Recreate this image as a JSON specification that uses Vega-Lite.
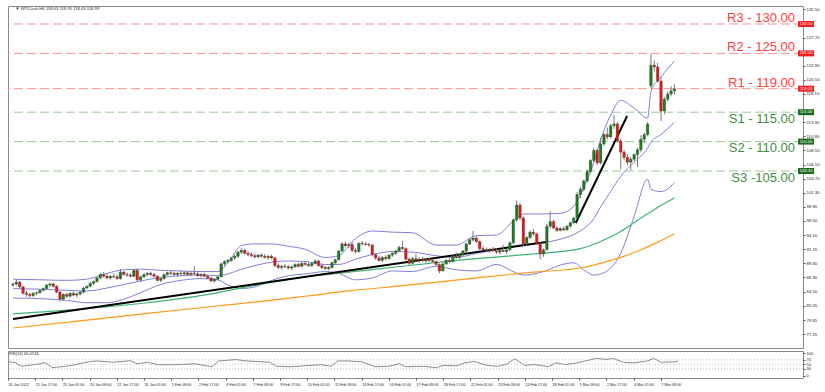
{
"$schema": "https://vega.github.io/schema/vega-lite/v6.json",
"background": "white",
"padding": {"left": 5, "top": 5, "right": 0, "bottom": 0},
"spacing": 1,
"config": {
  "view": {"stroke": "#8a8a8a", "strokeWidth": 1},
  "font": "Liberation Sans"
},
"resolve": {"scale": {"y": "independent"}},
"datasets": {
"candles": [
{"i":0,"o":85.6,"h":86.0,"l":85.3,"c":85.8},{"i":1,"o":85.8,"h":86.6,"l":85.5,"c":86.1},{"i":2,"o":86.1,"h":86.3,"l":85.0,"c":85.3},{"i":3,"o":85.3,"h":85.5,"l":84.0,"c":84.2},{"i":4,"o":84.2,"h":84.6,"l":83.6,"c":84.0},{"i":5,"o":84.0,"h":84.3,"l":83.5,"c":83.8},{"i":6,"o":83.8,"h":84.4,"l":83.6,"c":84.2},{"i":7,"o":84.2,"h":84.5,"l":83.9,"c":84.3},{"i":8,"o":84.3,"h":84.9,"l":84.1,"c":84.7},{"i":9,"o":84.7,"h":85.2,"l":84.5,"c":85.0},
{"i":10,"o":85.0,"h":85.8,"l":84.8,"c":85.6},{"i":11,"o":85.6,"h":86.0,"l":85.3,"c":85.8},{"i":12,"o":85.8,"h":86.0,"l":85.2,"c":85.4},{"i":13,"o":85.4,"h":85.6,"l":84.2,"c":84.4},{"i":14,"o":84.4,"h":84.6,"l":82.8,"c":83.2},{"i":15,"o":83.2,"h":84.2,"l":83.0,"c":84.0},{"i":16,"o":84.0,"h":84.3,"l":83.4,"c":83.7},{"i":17,"o":83.7,"h":84.4,"l":83.5,"c":84.2},{"i":18,"o":84.2,"h":84.5,"l":83.7,"c":83.9},{"i":19,"o":83.9,"h":84.3,"l":83.5,"c":84.1},
{"i":20,"o":84.1,"h":84.6,"l":83.8,"c":84.4},{"i":21,"o":84.4,"h":85.3,"l":84.2,"c":85.1},{"i":22,"o":85.1,"h":85.6,"l":84.9,"c":85.4},{"i":23,"o":85.4,"h":86.1,"l":85.2,"c":85.9},{"i":24,"o":85.9,"h":86.4,"l":85.6,"c":86.2},{"i":25,"o":86.2,"h":87.0,"l":86.0,"c":86.8},{"i":26,"o":86.8,"h":87.6,"l":86.6,"c":87.4},{"i":27,"o":87.4,"h":87.8,"l":86.9,"c":87.1},{"i":28,"o":87.1,"h":87.5,"l":86.6,"c":86.8},{"i":29,"o":86.8,"h":87.3,"l":86.5,"c":87.1},
{"i":30,"o":87.1,"h":87.6,"l":86.8,"c":87.0},{"i":31,"o":87.0,"h":87.4,"l":86.5,"c":86.7},{"i":32,"o":86.7,"h":88.3,"l":86.5,"c":87.8},{"i":33,"o":87.8,"h":88.0,"l":87.2,"c":87.4},{"i":34,"o":87.4,"h":87.7,"l":87.0,"c":87.3},{"i":35,"o":87.3,"h":87.6,"l":86.9,"c":87.1},{"i":36,"o":87.1,"h":88.3,"l":86.9,"c":88.1},{"i":37,"o":88.1,"h":88.4,"l":86.2,"c":86.5},{"i":38,"o":86.5,"h":87.2,"l":86.1,"c":87.0},{"i":39,"o":87.0,"h":87.6,"l":86.8,"c":87.4},
{"i":40,"o":87.4,"h":87.8,"l":87.1,"c":87.6},{"i":41,"o":87.6,"h":87.9,"l":87.2,"c":87.4},{"i":42,"o":87.4,"h":87.7,"l":86.9,"c":87.1},{"i":43,"o":87.1,"h":87.3,"l":86.2,"c":86.4},{"i":44,"o":86.4,"h":86.9,"l":86.1,"c":86.7},{"i":45,"o":86.7,"h":87.6,"l":86.5,"c":87.4},{"i":46,"o":87.4,"h":87.9,"l":87.2,"c":87.7},{"i":47,"o":87.7,"h":88.0,"l":87.3,"c":87.6},{"i":48,"o":87.6,"h":87.9,"l":87.2,"c":87.4},{"i":49,"o":87.4,"h":87.8,"l":87.0,"c":87.6},
{"i":50,"o":87.6,"h":88.0,"l":87.3,"c":87.5},{"i":51,"o":87.5,"h":87.9,"l":87.2,"c":87.7},{"i":52,"o":87.7,"h":88.0,"l":87.3,"c":87.4},{"i":53,"o":87.4,"h":87.8,"l":87.1,"c":87.6},{"i":54,"o":87.6,"h":88.8,"l":87.4,"c":87.5},{"i":55,"o":87.5,"h":87.9,"l":87.0,"c":87.2},{"i":56,"o":87.2,"h":87.6,"l":86.9,"c":87.4},{"i":57,"o":87.4,"h":87.7,"l":87.0,"c":87.1},{"i":58,"o":87.1,"h":87.4,"l":86.6,"c":86.8},{"i":59,"o":86.8,"h":87.0,"l":86.1,"c":86.3},
{"i":60,"o":86.3,"h":86.8,"l":86.0,"c":86.6},{"i":61,"o":86.6,"h":87.2,"l":86.4,"c":87.0},{"i":62,"o":87.0,"h":89.4,"l":86.9,"c":89.2},{"i":63,"o":89.2,"h":89.8,"l":88.9,"c":89.6},{"i":64,"o":89.6,"h":90.0,"l":89.3,"c":89.8},{"i":65,"o":89.8,"h":90.4,"l":89.5,"c":90.2},{"i":66,"o":90.2,"h":90.8,"l":89.9,"c":90.5},{"i":67,"o":90.5,"h":91.4,"l":90.2,"c":91.2},{"i":68,"o":91.2,"h":91.9,"l":90.9,"c":91.5},{"i":69,"o":91.5,"h":91.8,"l":90.8,"c":91.0},
{"i":70,"o":91.0,"h":91.4,"l":90.5,"c":90.8},{"i":71,"o":90.8,"h":91.2,"l":90.3,"c":90.6},{"i":72,"o":90.6,"h":91.0,"l":90.1,"c":90.4},{"i":73,"o":90.4,"h":90.9,"l":90.2,"c":90.7},{"i":74,"o":90.7,"h":91.0,"l":90.3,"c":90.5},{"i":75,"o":90.5,"h":90.9,"l":90.1,"c":90.3},{"i":76,"o":90.3,"h":90.7,"l":89.9,"c":90.5},{"i":77,"o":90.5,"h":90.8,"l":90.0,"c":90.2},{"i":78,"o":90.2,"h":90.4,"l":88.7,"c":88.9},{"i":79,"o":88.9,"h":89.3,"l":88.3,"c":88.6},
{"i":80,"o":88.6,"h":89.0,"l":88.2,"c":88.8},{"i":81,"o":88.8,"h":89.2,"l":88.5,"c":88.7},{"i":82,"o":88.7,"h":89.0,"l":88.3,"c":88.5},{"i":83,"o":88.5,"h":88.9,"l":88.1,"c":88.7},{"i":84,"o":88.7,"h":89.3,"l":88.5,"c":89.1},{"i":85,"o":89.1,"h":89.4,"l":88.6,"c":88.8},{"i":86,"o":88.8,"h":89.5,"l":88.6,"c":89.3},{"i":87,"o":89.3,"h":89.6,"l":88.9,"c":89.1},{"i":88,"o":89.1,"h":89.4,"l":88.7,"c":88.9},{"i":89,"o":88.9,"h":89.5,"l":88.7,"c":89.3},
{"i":90,"o":89.3,"h":90.0,"l":89.1,"c":89.7},{"i":91,"o":89.7,"h":89.9,"l":88.7,"c":88.9},{"i":92,"o":88.9,"h":89.2,"l":88.3,"c":88.6},{"i":93,"o":88.6,"h":88.9,"l":88.2,"c":88.4},{"i":94,"o":88.4,"h":88.8,"l":88.1,"c":88.6},{"i":95,"o":88.6,"h":89.6,"l":88.4,"c":89.4},{"i":96,"o":89.4,"h":90.1,"l":89.2,"c":89.9},{"i":97,"o":89.9,"h":91.6,"l":89.8,"c":91.4},{"i":98,"o":91.4,"h":92.9,"l":91.2,"c":92.6},{"i":99,"o":92.6,"h":93.0,"l":92.0,"c":92.3},
{"i":100,"o":92.3,"h":92.8,"l":91.9,"c":92.5},{"i":101,"o":92.5,"h":92.9,"l":91.2,"c":91.5},{"i":102,"o":91.5,"h":91.9,"l":91.0,"c":91.3},{"i":103,"o":91.3,"h":92.9,"l":91.1,"c":92.7},{"i":104,"o":92.7,"h":93.1,"l":92.3,"c":92.6},{"i":105,"o":92.6,"h":92.9,"l":92.3,"c":92.5},{"i":106,"o":92.5,"h":92.8,"l":92.1,"c":92.4},{"i":107,"o":92.4,"h":92.6,"l":90.5,"c":90.8},{"i":108,"o":90.8,"h":91.0,"l":89.9,"c":90.2},{"i":109,"o":90.2,"h":90.6,"l":89.6,"c":89.8},
{"i":110,"o":89.8,"h":90.5,"l":89.5,"c":90.3},{"i":111,"o":90.3,"h":90.7,"l":89.8,"c":90.1},{"i":112,"o":90.1,"h":90.9,"l":89.9,"c":90.7},{"i":113,"o":90.7,"h":91.2,"l":90.4,"c":91.0},{"i":114,"o":91.0,"h":91.6,"l":90.7,"c":91.4},{"i":115,"o":91.4,"h":92.3,"l":91.2,"c":92.0},{"i":116,"o":92.0,"h":93.1,"l":91.6,"c":91.8},{"i":117,"o":91.8,"h":92.0,"l":89.8,"c":90.0},{"i":118,"o":90.0,"h":90.3,"l":89.0,"c":89.3},{"i":119,"o":89.3,"h":90.4,"l":89.1,"c":90.1},
{"i":120,"o":90.1,"h":90.9,"l":89.6,"c":89.8},{"i":121,"o":89.8,"h":90.3,"l":89.4,"c":90.0},{"i":122,"o":90.0,"h":90.4,"l":89.6,"c":89.7},{"i":123,"o":89.7,"h":90.2,"l":89.4,"c":90.0},{"i":124,"o":90.0,"h":90.3,"l":89.5,"c":89.8},{"i":125,"o":89.8,"h":90.1,"l":89.4,"c":89.6},{"i":126,"o":89.6,"h":89.8,"l":88.9,"c":89.1},{"i":127,"o":89.1,"h":89.3,"l":87.6,"c":88.0},{"i":128,"o":88.0,"h":89.4,"l":87.9,"c":89.2},{"i":129,"o":89.2,"h":90.0,"l":89.0,"c":89.8},
{"i":130,"o":89.8,"h":90.2,"l":89.3,"c":89.6},{"i":131,"o":89.6,"h":90.8,"l":89.4,"c":90.5},{"i":132,"o":90.5,"h":91.2,"l":90.0,"c":90.3},{"i":133,"o":90.3,"h":90.9,"l":90.0,"c":90.7},{"i":134,"o":90.7,"h":91.6,"l":90.5,"c":91.4},{"i":135,"o":91.4,"h":92.8,"l":91.2,"c":92.6},{"i":136,"o":92.6,"h":93.6,"l":92.4,"c":93.3},{"i":137,"o":93.3,"h":94.8,"l":93.0,"c":93.6},{"i":138,"o":93.6,"h":93.9,"l":92.8,"c":93.0},{"i":139,"o":93.0,"h":93.2,"l":91.6,"c":91.8},
{"i":140,"o":91.8,"h":92.2,"l":91.4,"c":91.6},{"i":141,"o":91.6,"h":92.0,"l":91.2,"c":91.5},{"i":142,"o":91.5,"h":91.9,"l":91.1,"c":91.7},{"i":143,"o":91.7,"h":92.1,"l":91.3,"c":91.4},{"i":144,"o":91.4,"h":91.8,"l":90.9,"c":91.2},{"i":145,"o":91.2,"h":91.6,"l":90.8,"c":91.5},{"i":146,"o":91.5,"h":92.4,"l":91.2,"c":91.3},{"i":147,"o":91.3,"h":91.8,"l":90.9,"c":91.6},{"i":148,"o":91.6,"h":93.0,"l":91.4,"c":92.8},{"i":149,"o":92.8,"h":96.9,"l":92.6,"c":96.7},
{"i":150,"o":96.7,"h":100.0,"l":96.3,"c":99.2},{"i":151,"o":99.2,"h":99.6,"l":96.6,"c":97.0},{"i":152,"o":97.0,"h":97.3,"l":92.3,"c":92.6},{"i":153,"o":92.6,"h":93.9,"l":92.3,"c":93.7},{"i":154,"o":93.7,"h":94.9,"l":93.4,"c":94.6},{"i":155,"o":94.6,"h":95.1,"l":94.0,"c":94.3},{"i":156,"o":94.3,"h":94.5,"l":92.4,"c":92.7},{"i":157,"o":92.7,"h":92.9,"l":90.0,"c":90.9},{"i":158,"o":90.9,"h":91.8,"l":90.4,"c":91.6},{"i":159,"o":91.6,"h":96.0,"l":91.5,"c":95.6},
{"i":160,"o":95.6,"h":98.2,"l":95.2,"c":96.4},{"i":161,"o":96.4,"h":96.7,"l":95.1,"c":95.3},{"i":162,"o":95.3,"h":95.6,"l":94.6,"c":94.9},{"i":163,"o":94.9,"h":95.5,"l":94.7,"c":95.2},{"i":164,"o":95.2,"h":95.6,"l":94.8,"c":95.0},{"i":165,"o":95.0,"h":95.8,"l":94.8,"c":95.6},{"i":166,"o":95.6,"h":96.4,"l":95.4,"c":96.2},{"i":167,"o":96.2,"h":97.2,"l":96.0,"c":97.0},{"i":168,"o":97.0,"h":101.4,"l":96.9,"c":101.0},{"i":169,"o":101.0,"h":102.3,"l":100.4,"c":101.9},
{"i":170,"o":101.9,"h":103.6,"l":101.5,"c":103.3},{"i":171,"o":103.3,"h":105.3,"l":103.0,"c":104.9},{"i":172,"o":104.9,"h":107.0,"l":104.6,"c":106.8},{"i":173,"o":106.8,"h":108.9,"l":106.5,"c":108.5},{"i":174,"o":108.5,"h":108.7,"l":106.0,"c":106.4},{"i":175,"o":106.4,"h":110.6,"l":106.1,"c":109.6},{"i":176,"o":109.6,"h":111.5,"l":109.3,"c":111.2},{"i":177,"o":111.2,"h":112.4,"l":110.4,"c":110.8},{"i":178,"o":110.8,"h":113.0,"l":110.6,"c":112.7},{"i":179,"o":112.7,"h":114.5,"l":112.2,"c":113.0},
{"i":180,"o":113.0,"h":113.3,"l":109.8,"c":110.1},{"i":181,"o":110.1,"h":110.5,"l":105.3,"c":108.2},{"i":182,"o":108.2,"h":108.6,"l":106.8,"c":107.3},{"i":183,"o":107.3,"h":107.9,"l":106.0,"c":106.5},{"i":184,"o":106.5,"h":107.4,"l":105.2,"c":107.0},{"i":185,"o":107.0,"h":108.0,"l":106.6,"c":107.8},{"i":186,"o":107.8,"h":109.0,"l":105.7,"c":108.6},{"i":187,"o":108.6,"h":111.1,"l":108.2,"c":110.4},{"i":188,"o":110.4,"h":111.5,"l":109.8,"c":111.2},{"i":189,"o":111.2,"h":113.3,"l":110.9,"c":113.0},
{"i":190,"o":119.5,"h":124.9,"l":119.0,"c":123.0},{"i":191,"o":123.0,"h":123.8,"l":121.9,"c":122.7},{"i":192,"o":122.7,"h":123.4,"l":120.0,"c":120.3},{"i":193,"o":120.3,"h":121.0,"l":113.5,"c":115.2},{"i":194,"o":115.2,"h":117.6,"l":114.6,"c":117.2},{"i":195,"o":117.2,"h":118.5,"l":116.8,"c":118.1},{"i":196,"o":118.1,"h":119.4,"l":117.7,"c":118.63},{"i":197,"o":118.63,"h":119.76,"l":118.03,"c":118.99}
],
"bb": [
{"i":0,"u":86.6,"m":85.0,"l":83.4},{"i":8,"u":86.5,"m":84.9,"l":83.3},{"i":16,"u":86.4,"m":84.7,"l":83.0},{"i":22,"u":86.6,"m":84.6,"l":82.6},{"i":28,"u":87.6,"m":85.1,"l":82.6},{"i":33,"u":88.2,"m":85.7,"l":83.2},{"i":38,"u":88.3,"m":86.3,"l":84.3},{"i":44,"u":88.1,"m":86.9,"l":85.7},{"i":50,"u":88.0,"m":87.2,"l":86.4},{"i":56,"u":87.9,"m":87.3,"l":86.7},{"i":61,"u":87.9,"m":87.2,"l":86.5},{"i":64,"u":89.4,"m":87.5,"l":85.6},{"i":68,"u":92.3,"m":88.3,"l":85.0},{"i":72,"u":92.6,"m":88.9,"l":85.3},{"i":77,"u":92.6,"m":89.5,"l":86.4},{"i":82,"u":92.2,"m":89.7,"l":87.2},{"i":87,"u":91.7,"m":89.6,"l":87.5},{"i":93,"u":90.3,"m":89.1,"l":87.9},{"i":97,"u":90.6,"m":89.1,"l":87.6},{"i":102,"u":93.5,"m":90.0,"l":86.5},{"i":107,"u":94.8,"m":90.8,"l":86.8},{"i":113,"u":94.6,"m":91.3,"l":88.0},{"i":119,"u":94.5,"m":91.2,"l":87.9},{"i":126,"u":92.4,"m":90.6,"l":88.8},{"i":132,"u":92.4,"m":90.3,"l":88.2},{"i":138,"u":94.0,"m":91.0,"l":88.0},{"i":144,"u":94.1,"m":91.6,"l":89.1},{"i":149,"u":96.5,"m":92.2,"l":87.9},{"i":152,"u":97.7,"m":92.5,"l":87.3},{"i":158,"u":97.7,"m":92.8,"l":87.9},{"i":163,"u":97.8,"m":93.4,"l":89.0},{"i":167,"u":99.0,"m":94.2,"l":89.4},{"i":170,"u":102.2,"m":95.2,"l":88.2},{"i":173,"u":106.5,"m":96.9,"l":87.3},{"i":175,"u":110.3,"m":98.9,"l":87.5},{"i":178,"u":114.5,"m":101.5,"l":88.5},{"i":181,"u":117.0,"m":104.1,"l":91.0},{"i":185,"u":115.7,"m":106.5,"l":97.3},{"i":189,"u":114.0,"m":108.9,"l":103.6},{"i":190,"u":118.5,"m":109.9,"l":101.9},{"i":193,"u":121.0,"m":111.2,"l":101.5},{"i":197,"u":123.7,"m":113.3,"l":103.0}
],
"ma": [
{"i":0,"g":80.7,"o":78.3},{"i":20,"g":81.5,"o":79.5},{"i":40,"g":82.6,"o":80.8},{"i":60,"g":84.2,"o":82.0},{"i":67,"g":85.0,"o":82.4},{"i":87,"g":87.0,"o":83.7},{"i":100,"g":87.8,"o":84.6},{"i":116,"g":88.8,"o":85.5},{"i":136,"g":90.0,"o":86.7},{"i":155,"g":90.9,"o":87.8},{"i":169,"g":91.8,"o":88.5},{"i":175,"g":93.0,"o":89.3},{"i":181,"g":94.7,"o":90.3},{"i":187,"g":97.0,"o":91.6},{"i":192,"g":98.8,"o":92.9},{"i":197,"g":100.4,"o":94.3}
],
"trend": [
{"t":"A","i":0,"v":79.83},{"t":"A","i":158.8,"v":92.93},{"t":"B","i":167.6,"v":96.16},{"t":"B","i":182.9,"v":114.35}
],
"levels": [
{"v":130,"lab":"R3 - 130.00","box":"130.00","k":"R"},{"v":125,"lab":"R2 - 125.00","box":"125.00","k":"R"},{"v":119,"lab":"R1 - 119.00","box":"119.00","k":"R"},{"v":115,"lab":"S1 - 115.00","box":"115.00","k":"S"},{"v":110,"lab":"S2 - 110.00","box":"110.00","k":"S"},{"v":105,"lab":"S3 -105.00","box":"105.00","k":"S"}
],
"rsi": [
{"i":0,"r":61},{"i":2,"r":58},{"i":4,"r":41},{"i":8,"r":49},{"i":11,"r":57},{"i":13,"r":35},{"i":18,"r":43},{"i":23,"r":59},{"i":26,"r":65},{"i":31,"r":59},{"i":36,"r":66},{"i":38,"r":52},{"i":41,"r":59},{"i":44,"r":48},{"i":49,"r":48},{"i":55,"r":52},{"i":60,"r":39},{"i":62,"r":65},{"i":67,"r":71},{"i":70,"r":65},{"i":77,"r":59},{"i":79,"r":41},{"i":83,"r":39},{"i":87,"r":43},{"i":92,"r":48},{"i":95,"r":41},{"i":97,"r":65},{"i":100,"r":65},{"i":104,"r":61},{"i":108,"r":39},{"i":112,"r":41},{"i":115,"r":52},{"i":117,"r":39},{"i":122,"r":41},{"i":126,"r":35},{"i":128,"r":45},{"i":132,"r":43},{"i":134,"r":55},{"i":137,"r":63},{"i":141,"r":45},{"i":144,"r":41},{"i":147,"r":52},{"i":149,"r":75},{"i":152,"r":45},{"i":155,"r":49},{"i":159,"r":39},{"i":161,"r":56},{"i":164,"r":49},{"i":167,"r":55},{"i":171,"r":69},{"i":173,"r":76},{"i":176,"r":72},{"i":178,"r":76},{"i":181,"r":59},{"i":184,"r":56},{"i":188,"r":65},{"i":190,"r":76},{"i":192,"r":59},{"i":196,"r":61},{"i":197,"r":63}
],
"rsigrid": [{"g":30},{"g":50},{"g":70}]
},
"vconcat": [
{
"width": 795, "height": 342,
"layer": [
{"data": {"name": "levels"}, "mark": {"type": "rule", "strokeDash": [9, 4], "strokeWidth": 1},
 "encoding": {
  "y": {"field": "v", "type": "quantitative", "scale": {"domain": [74.9, 133.06], "nice": false, "zero": false}, "axis": {"orient": "right", "values": [132.5,127.7,122.9,120.5,118.1,113.3,110.9,108.5,106.1,103.7,101.3,98.9,96.5,94.1,91.7,89.3,86.9,84.5,82.05,79.65,77.25,74.85], "format": ".2f", "labelFontSize": 4.3, "tickSize": 2, "labelPadding": 1, "title": null, "grid": false, "domain": false, "labelColor": "#222222", "tickColor": "#555555", "labelFont": "Liberation Sans"}},
  "color": {"condition": {"test": "datum.k == 'R'", "value": "#ff8f8f"}, "value": "#9cc995"}}},
{"data": {"name": "bb"}, "mark": {"type": "line", "color": "#7f7fdc", "strokeWidth": 1, "interpolate": "monotone"},
 "encoding": {"x": {"field": "i", "type": "quantitative", "scale": {"domain": [0, 233.8], "nice": false, "zero": false}, "axis": null},
  "y": {"field": "u", "type": "quantitative", "scale": {"domain": [74.9, 133.06], "nice": false, "zero": false}, "axis": {"orient": "right", "values": [132.5,127.7,122.9,120.5,118.1,113.3,110.9,108.5,106.1,103.7,101.3,98.9,96.5,94.1,91.7,89.3,86.9,84.5,82.05,79.65,77.25,74.85], "format": ".2f", "labelFontSize": 4.3, "tickSize": 2, "labelPadding": 1, "title": null, "grid": false, "domain": false, "labelColor": "#222222", "tickColor": "#555555", "labelFont": "Liberation Sans"}}}},
{"data": {"name": "bb"}, "mark": {"type": "line", "color": "#7f7fdc", "strokeWidth": 1, "interpolate": "monotone"},
 "encoding": {"x": {"field": "i", "type": "quantitative", "scale": {"domain": [0, 233.8], "nice": false, "zero": false}, "axis": null},
  "y": {"field": "m", "type": "quantitative", "scale": {"domain": [74.9, 133.06], "nice": false, "zero": false}, "axis": {"orient": "right", "values": [132.5,127.7,122.9,120.5,118.1,113.3,110.9,108.5,106.1,103.7,101.3,98.9,96.5,94.1,91.7,89.3,86.9,84.5,82.05,79.65,77.25,74.85], "format": ".2f", "labelFontSize": 4.3, "tickSize": 2, "labelPadding": 1, "title": null, "grid": false, "domain": false, "labelColor": "#222222", "tickColor": "#555555", "labelFont": "Liberation Sans"}}}},
{"data": {"name": "bb"}, "mark": {"type": "line", "color": "#7f7fdc", "strokeWidth": 1, "interpolate": "monotone"},
 "encoding": {"x": {"field": "i", "type": "quantitative", "scale": {"domain": [0, 233.8], "nice": false, "zero": false}, "axis": null},
  "y": {"field": "l", "type": "quantitative", "scale": {"domain": [74.9, 133.06], "nice": false, "zero": false}, "axis": {"orient": "right", "values": [132.5,127.7,122.9,120.5,118.1,113.3,110.9,108.5,106.1,103.7,101.3,98.9,96.5,94.1,91.7,89.3,86.9,84.5,82.05,79.65,77.25,74.85], "format": ".2f", "labelFontSize": 4.3, "tickSize": 2, "labelPadding": 1, "title": null, "grid": false, "domain": false, "labelColor": "#222222", "tickColor": "#555555", "labelFont": "Liberation Sans"}}}},
{"data": {"name": "ma"}, "mark": {"type": "line", "color": "#3cb371", "strokeWidth": 1.2, "interpolate": "monotone"},
 "encoding": {"x": {"field": "i", "type": "quantitative", "scale": {"domain": [0, 233.8], "nice": false, "zero": false}, "axis": null},
  "y": {"field": "g", "type": "quantitative", "scale": {"domain": [74.9, 133.06], "nice": false, "zero": false}, "axis": {"orient": "right", "values": [132.5,127.7,122.9,120.5,118.1,113.3,110.9,108.5,106.1,103.7,101.3,98.9,96.5,94.1,91.7,89.3,86.9,84.5,82.05,79.65,77.25,74.85], "format": ".2f", "labelFontSize": 4.3, "tickSize": 2, "labelPadding": 1, "title": null, "grid": false, "domain": false, "labelColor": "#222222", "tickColor": "#555555", "labelFont": "Liberation Sans"}}}},
{"data": {"name": "ma"}, "mark": {"type": "line", "color": "#ff9a1a", "strokeWidth": 1.2, "interpolate": "monotone"},
 "encoding": {"x": {"field": "i", "type": "quantitative", "scale": {"domain": [0, 233.8], "nice": false, "zero": false}, "axis": null},
  "y": {"field": "o", "type": "quantitative", "scale": {"domain": [74.9, 133.06], "nice": false, "zero": false}, "axis": {"orient": "right", "values": [132.5,127.7,122.9,120.5,118.1,113.3,110.9,108.5,106.1,103.7,101.3,98.9,96.5,94.1,91.7,89.3,86.9,84.5,82.05,79.65,77.25,74.85], "format": ".2f", "labelFontSize": 4.3, "tickSize": 2, "labelPadding": 1, "title": null, "grid": false, "domain": false, "labelColor": "#222222", "tickColor": "#555555", "labelFont": "Liberation Sans"}}}},
{"data": {"name": "trend"}, "mark": {"type": "line", "color": "#000000", "strokeWidth": 2},
 "encoding": {"x": {"field": "i", "type": "quantitative", "scale": {"domain": [0, 233.8], "nice": false, "zero": false}, "axis": null},
  "y": {"field": "v", "type": "quantitative", "scale": {"domain": [74.9, 133.06], "nice": false, "zero": false}, "axis": {"orient": "right", "values": [132.5,127.7,122.9,120.5,118.1,113.3,110.9,108.5,106.1,103.7,101.3,98.9,96.5,94.1,91.7,89.3,86.9,84.5,82.05,79.65,77.25,74.85], "format": ".2f", "labelFontSize": 4.3, "tickSize": 2, "labelPadding": 1, "title": null, "grid": false, "domain": false, "labelColor": "#222222", "tickColor": "#555555", "labelFont": "Liberation Sans"}},
  "detail": {"field": "t"}}},
{"data": {"name": "candles"}, "mark": {"type": "rule", "color": "#7a7a7a", "strokeWidth": 1},
 "encoding": {"x": {"field": "i", "type": "quantitative", "scale": {"domain": [0, 233.8], "nice": false, "zero": false}, "axis": null},
  "y": {"field": "l", "type": "quantitative", "scale": {"domain": [74.9, 133.06], "nice": false, "zero": false}, "axis": {"orient": "right", "values": [132.5,127.7,122.9,120.5,118.1,113.3,110.9,108.5,106.1,103.7,101.3,98.9,96.5,94.1,91.7,89.3,86.9,84.5,82.05,79.65,77.25,74.85], "format": ".2f", "labelFontSize": 4.3, "tickSize": 2, "labelPadding": 1, "title": null, "grid": false, "domain": false, "labelColor": "#222222", "tickColor": "#555555", "labelFont": "Liberation Sans"}},
  "y2": {"field": "h"}}},
{"data": {"name": "candles"}, "mark": {"type": "bar", "size": 2.6, "stroke": "#333333", "strokeWidth": 0.3},
 "encoding": {"x": {"field": "i", "type": "quantitative", "scale": {"domain": [0, 233.8], "nice": false, "zero": false}, "axis": null},
  "y": {"field": "o", "type": "quantitative", "scale": {"domain": [74.9, 133.06], "nice": false, "zero": false}, "axis": {"orient": "right", "values": [132.5,127.7,122.9,120.5,118.1,113.3,110.9,108.5,106.1,103.7,101.3,98.9,96.5,94.1,91.7,89.3,86.9,84.5,82.05,79.65,77.25,74.85], "format": ".2f", "labelFontSize": 4.3, "tickSize": 2, "labelPadding": 1, "title": null, "grid": false, "domain": false, "labelColor": "#222222", "tickColor": "#555555", "labelFont": "Liberation Sans"}},
  "y2": {"field": "c"},
  "color": {"condition": {"test": "datum.c >= datum.o", "value": "#1e7d1e"}, "value": "#e01b1b"}}},
{"data": {"name": "levels"}, "transform": [{"filter": "datum.k == 'R'"}],
 "mark": {"type": "text", "align": "right", "baseline": "alphabetic", "dy": -2, "fontSize": 13, "font": "Liberation Sans", "color": "#ff4040"},
 "encoding": {"x": {"datum": 232.9, "type": "quantitative", "scale": {"domain": [0, 233.8], "nice": false, "zero": false}, "axis": null},
  "y": {"field": "v", "type": "quantitative", "scale": {"domain": [74.9, 133.06], "nice": false, "zero": false}, "axis": {"orient": "right", "values": [132.5,127.7,122.9,120.5,118.1,113.3,110.9,108.5,106.1,103.7,101.3,98.9,96.5,94.1,91.7,89.3,86.9,84.5,82.05,79.65,77.25,74.85], "format": ".2f", "labelFontSize": 4.3, "tickSize": 2, "labelPadding": 1, "title": null, "grid": false, "domain": false, "labelColor": "#222222", "tickColor": "#555555", "labelFont": "Liberation Sans"}},
  "text": {"field": "lab"}}},
{"data": {"name": "levels"}, "transform": [{"filter": "datum.k == 'S'"}],
 "mark": {"type": "text", "align": "right", "baseline": "alphabetic", "dy": 10.7, "fontSize": 13, "font": "Liberation Sans", "color": "#3f8f3f"},
 "encoding": {"x": {"datum": 232.9, "type": "quantitative", "scale": {"domain": [0, 233.8], "nice": false, "zero": false}, "axis": null},
  "y": {"field": "v", "type": "quantitative", "scale": {"domain": [74.9, 133.06], "nice": false, "zero": false}, "axis": {"orient": "right", "values": [132.5,127.7,122.9,120.5,118.1,113.3,110.9,108.5,106.1,103.7,101.3,98.9,96.5,94.1,91.7,89.3,86.9,84.5,82.05,79.65,77.25,74.85], "format": ".2f", "labelFontSize": 4.3, "tickSize": 2, "labelPadding": 1, "title": null, "grid": false, "domain": false, "labelColor": "#222222", "tickColor": "#555555", "labelFont": "Liberation Sans"}},
  "text": {"field": "lab"}}},
{"data": {"name": "levels"}, "mark": {"type": "tick", "orient": "horizontal", "size": 16, "thickness": 6, "opacity": 1},
 "encoding": {"x": {"datum": 236.2, "type": "quantitative", "scale": {"domain": [0, 233.8], "nice": false, "zero": false}, "axis": null},
  "y": {"field": "v", "type": "quantitative", "scale": {"domain": [74.9, 133.06], "nice": false, "zero": false}, "axis": {"orient": "right", "values": [132.5,127.7,122.9,120.5,118.1,113.3,110.9,108.5,106.1,103.7,101.3,98.9,96.5,94.1,91.7,89.3,86.9,84.5,82.05,79.65,77.25,74.85], "format": ".2f", "labelFontSize": 4.3, "tickSize": 2, "labelPadding": 1, "title": null, "grid": false, "domain": false, "labelColor": "#222222", "tickColor": "#555555", "labelFont": "Liberation Sans"}},
  "color": {"condition": {"test": "datum.k == 'R'", "value": "#f21d1d"}, "value": "#1b6b1b"}}},
{"data": {"name": "levels"}, "mark": {"type": "text", "align": "center", "baseline": "middle", "fontSize": 4.2, "color": "#ffffff"},
 "encoding": {"x": {"datum": 236.2, "type": "quantitative", "scale": {"domain": [0, 233.8], "nice": false, "zero": false}, "axis": null},
  "y": {"field": "v", "type": "quantitative", "scale": {"domain": [74.9, 133.06], "nice": false, "zero": false}, "axis": {"orient": "right", "values": [132.5,127.7,122.9,120.5,118.1,113.3,110.9,108.5,106.1,103.7,101.3,98.9,96.5,94.1,91.7,89.3,86.9,84.5,82.05,79.65,77.25,74.85], "format": ".2f", "labelFontSize": 4.3, "tickSize": 2, "labelPadding": 1, "title": null, "grid": false, "domain": false, "labelColor": "#222222", "tickColor": "#555555", "labelFont": "Liberation Sans"}},
  "text": {"field": "box"}}},
{"data": {"values": [{"t": "▼ WTICash,H4 118.63 119.76 118.03 118.99"}]},
 "mark": {"type": "text", "align": "left", "baseline": "middle", "fontSize": 4.2, "color": "#222222"},
 "encoding": {"x": {"datum": 0.7, "type": "quantitative", "scale": {"domain": [0, 233.8], "nice": false, "zero": false}, "axis": null},
  "y": {"datum": 132.55, "type": "quantitative", "scale": {"domain": [74.9, 133.06], "nice": false, "zero": false}, "axis": {"orient": "right", "values": [132.5,127.7,122.9,120.5,118.1,113.3,110.9,108.5,106.1,103.7,101.3,98.9,96.5,94.1,91.7,89.3,86.9,84.5,82.05,79.65,77.25,74.85], "format": ".2f", "labelFontSize": 4.3, "tickSize": 2, "labelPadding": 1, "title": null, "grid": false, "domain": false, "labelColor": "#222222", "tickColor": "#555555", "labelFont": "Liberation Sans"}},
  "text": {"field": "t"}}}
]
},
{
"width": 795, "height": 27,
"layer": [
{"data": {"name": "rsigrid"}, "mark": {"type": "rule", "color": "#bdbdbd", "strokeDash": [1, 2], "strokeWidth": 1},
 "encoding": {"y": {"field": "g", "type": "quantitative", "scale": {"domain": [-11, 109], "nice": false, "zero": false},
   "axis": {"orient": "right", "values": [0, 30, 50, 70, 100], "labelFontSize": 4, "tickSize": 2, "labelPadding": 1, "title": null, "grid": false, "domain": false, "labelColor": "#222222", "tickColor": "#555555", "labelFont": "Liberation Sans"}}}},
{"data": {"name": "rsi"}, "mark": {"type": "line", "color": "#8c8c8c", "strokeWidth": 1},
 "encoding": {"x": {"field": "i", "type": "quantitative", "scale": {"domain": [0, 233.8], "nice": false, "zero": false},
   "axis": {"orient": "bottom", "values": [0,8,16,24,32,40,48,56,64,72,80,88,96,104,112,120,128,136,144,152,160,168,176,184,192], "labelAlign": "left", "labelBaseline": "top", "labelFontSize": 3.7, "labelPadding": 2, "tickSize": 2, "labelOverlap": false, "labelFlush": false, "title": null, "grid": false, "domain": false, "labelColor": "#222222", "tickColor": "#555555", "labelFont": "Liberation Sans",
     "labelExpr": "['20 Jan 2022','21 Jan 17:00','25 Jan 01:00','26 Jan 09:00','27 Jan 17:00','31 Jan 01:00','1 Feb 09:00','2 Feb 17:00','4 Feb 01:00','7 Feb 09:00','8 Feb 17:00','10 Feb 01:00','11 Feb 09:00','14 Feb 17:00','16 Feb 01:00','17 Feb 09:00','18 Feb 17:00','22 Feb 01:00','23 Feb 09:00','24 Feb 17:00','28 Feb 01:00','1 Mar 09:00','2 Mar 17:00','4 Mar 01:00','7 Mar 09:00'][round(datum.value/8)]"}},
  "y": {"field": "r", "type": "quantitative", "scale": {"domain": [-11, 109], "nice": false, "zero": false},
   "axis": {"orient": "right", "values": [0, 30, 50, 70, 100], "labelFontSize": 4, "tickSize": 2, "labelPadding": 1, "title": null, "grid": false, "domain": false, "labelColor": "#222222", "tickColor": "#555555", "labelFont": "Liberation Sans"}}}},
{"data": {"values": [{"t": "RSI(14) 65.0133"}]},
 "mark": {"type": "text", "align": "left", "baseline": "middle", "fontSize": 4, "color": "#222222"},
 "encoding": {"x": {"datum": 0.3, "type": "quantitative", "scale": {"domain": [0, 233.8], "nice": false, "zero": false},
   "axis": {"orient": "bottom", "values": [0,8,16,24,32,40,48,56,64,72,80,88,96,104,112,120,128,136,144,152,160,168,176,184,192], "labelAlign": "left", "labelBaseline": "top", "labelFontSize": 3.7, "labelPadding": 2, "tickSize": 2, "labelOverlap": false, "labelFlush": false, "title": null, "grid": false, "domain": false, "labelColor": "#222222", "tickColor": "#555555", "labelFont": "Liberation Sans",
     "labelExpr": "['20 Jan 2022','21 Jan 17:00','25 Jan 01:00','26 Jan 09:00','27 Jan 17:00','31 Jan 01:00','1 Feb 09:00','2 Feb 17:00','4 Feb 01:00','7 Feb 09:00','8 Feb 17:00','10 Feb 01:00','11 Feb 09:00','14 Feb 17:00','16 Feb 01:00','17 Feb 09:00','18 Feb 17:00','22 Feb 01:00','23 Feb 09:00','24 Feb 17:00','28 Feb 01:00','1 Mar 09:00','2 Mar 17:00','4 Mar 01:00','7 Mar 09:00'][round(datum.value/8)]"}},
  "y": {"datum": 96, "type": "quantitative", "scale": {"domain": [-11, 109], "nice": false, "zero": false},
   "axis": {"orient": "right", "values": [0, 30, 50, 70, 100], "labelFontSize": 4, "tickSize": 2, "labelPadding": 1, "title": null, "grid": false, "domain": false, "labelColor": "#222222", "tickColor": "#555555", "labelFont": "Liberation Sans"}},
  "text": {"field": "t"}}}
]
}
]
}
